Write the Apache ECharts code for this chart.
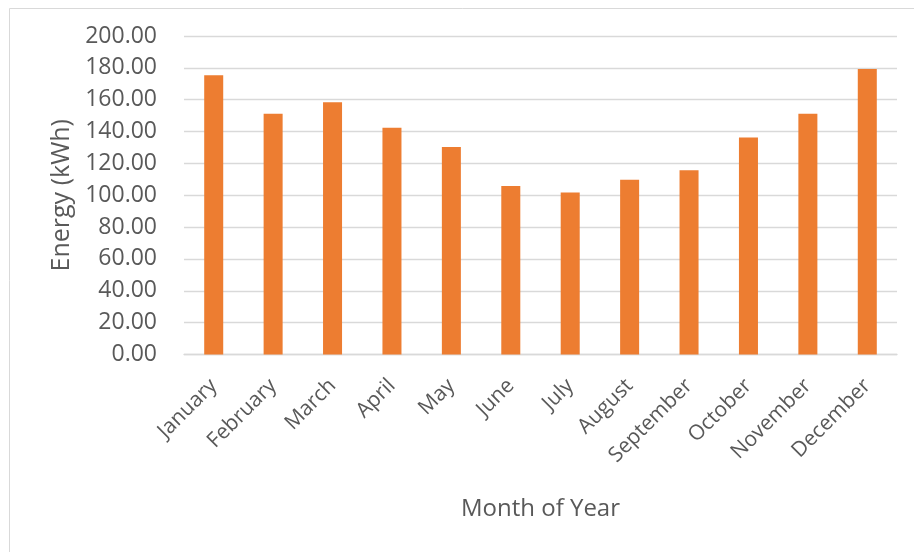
<!DOCTYPE html>
<html>
<head>
<meta charset="utf-8">
<script src="https://cdn.jsdelivr.net/npm/echarts@6/dist/echarts.min.js"></script>
<style>html,body{margin:0;padding:0;background:#fff;}#c{width:914px;height:552px;}</style>
</head>
<body>
<div id="c"></div>
<script>
const months = ['January','February','March','April','May','June','July','August','September','October','November','December'];
const energy = [175.3, 151.2, 158.4, 142.4, 130.3, 105.8, 101.8, 109.8, 115.7, 136.2, 151.2, 179.3];
const yMin = 0, yMax = 200, yStep = 20;

const chart = echarts.init(document.getElementById('c'), null, {renderer: 'canvas'});
const font = '"Open Sans", "Liberation Sans", Arial, sans-serif';
chart.setOption({
  animation: false,
  backgroundColor: '#fff',
  graphic: [{
    type: 'rect', left: 7, top: 6, silent: true,
    shape: {x: 0.5, y: 0.5, width: 920, height: 560},
    style: {fill: 'none', stroke: '#D9D9D9', lineWidth: 1}
  }],
  grid: {left: 184, right: 17, top: 36, bottom: 197.5, containLabel: false},
  xAxis: {
    type: 'category',
    data: months,
    name: 'Month of Year',
    nameLocation: 'middle',
    nameGap: 143,
    nameTextStyle: {color: '#595959', fontSize: 24, fontFamily: font},
    axisLine: {show: true, lineStyle: {color: '#D9D9D9', width: 1.3}},
    axisTick: {show: false},
    axisLabel: {rotate: 45, margin: 28, color: '#595959', fontSize: 21, fontFamily: font, interval: 0}
  },
  yAxis: {
    type: 'value',
    min: yMin, max: yMax, interval: yStep,
    name: 'Energy (kWh)',
    nameLocation: 'middle',
    nameGap: 110,
    nameRotate: 90,
    nameTextStyle: {color: '#595959', fontSize: 25, fontFamily: font},
    axisLine: {show: false},
    axisTick: {show: false},
    axisLabel: {margin: 27, color: '#595959', fontSize: 23, fontFamily: font, formatter: v => v.toFixed(2)},
    splitLine: {lineStyle: {color: '#D9D9D9', width: 1.3}}
  },
  series: [{
    type: 'bar',
    data: energy,
    barWidth: '32%',
    itemStyle: {color: '#ED7D31'}
  }]
});
</script>
</body>
</html>
